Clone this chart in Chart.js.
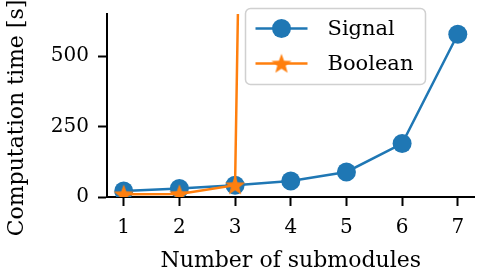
<!DOCTYPE html>
<html><head><meta charset="utf-8">
<script src="https://cdn.jsdelivr.net/npm/chart.js@4/dist/chart.umd.min.js"></script>
<style>html,body{margin:0;padding:0;background:#fff}</style>
</head><body>
<canvas id="c" width="488" height="280" style="width:488px;height:280px;display:block"></canvas>
<script>
const categories = [1, 2, 3, 4, 5, 6, 7];
const signalValues = [21, 30, 42, 57, 89, 190, 578];
const booleanValues = [10, 11, 42, 12000, null, null, null];
const yTickValues = [0, 250, 500];
const seriesNames = ['Signal', 'Boolean'];
const xTitle = 'Number of submodules';
const yTitle = 'Computation time [s]';

const BLUE = '#1f77b4', ORANGE = '#ff7f0e';
const FONT = '"DejaVu Serif", serif';

function makeStar(size, color) {
  const c = document.createElement('canvas');
  c.width = size; c.height = size;
  const g = c.getContext('2d');
  const R = size / 2 - 0.5, r = R * 0.42, cx = size / 2, cy = size / 2 + 0.8;
  g.beginPath();
  for (let i = 0; i < 10; i++) {
    const rad = i % 2 === 0 ? R : r;
    const a = -Math.PI / 2 + i * Math.PI / 5;
    const px = cx + rad * Math.cos(a), py = cy + rad * Math.sin(a);
    if (i === 0) g.moveTo(px, py); else g.lineTo(px, py);
  }
  g.closePath();
  g.fillStyle = color; g.fill();
  return c;
}
const starImg = makeStar(22, ORANGE);

const toPoints = vals => categories.map((x, i) => ({ x: x, y: vals[i] })).filter(p => p.y !== null);

const customPlugin = {
  id: 'custom',
  afterDatasetsDraw(chart) {
    const ctx = chart.ctx, a = chart.chartArea;
    ctx.save();
    // legend box
    const bx = a.left + 138.5, by = a.top - 5.5, bw = 180, bh = 76;
    ctx.beginPath();
    ctx.roundRect(bx, by, bw, bh, 5);
    ctx.fillStyle = 'rgba(255,255,255,0.8)';
    ctx.fill();
    ctx.lineWidth = 1.5;
    ctx.strokeStyle = '#d0d0d0';
    ctx.stroke();
    const rows = [
      { name: seriesNames[0], color: BLUE, y: by + 20, marker: 'circle' },
      { name: seriesNames[1], color: ORANGE, y: by + 55, marker: 'star' }
    ];
    const lx0 = bx + 10, lx1 = bx + 62, mx = (lx0 + lx1) / 2;
    rows.forEach(r => {
      ctx.beginPath();
      ctx.moveTo(lx0, r.y); ctx.lineTo(lx1, r.y);
      ctx.strokeStyle = r.color; ctx.lineWidth = 2.5; ctx.stroke();
      if (r.marker === 'circle') {
        ctx.beginPath(); ctx.arc(mx, r.y, 9.5, 0, Math.PI * 2);
        ctx.fillStyle = r.color; ctx.fill();
      } else {
        ctx.drawImage(starImg, mx - 11, r.y - 11);
      }
      ctx.fillStyle = '#000';
      ctx.font = '21px ' + FONT;
      ctx.textBaseline = 'middle';
      ctx.textAlign = 'left';
      ctx.fillText(r.name, bx + 82, r.y + 1);
    });
    // axis titles
    ctx.fillStyle = '#000';
    ctx.font = '22px ' + FONT;
    ctx.textAlign = 'center';
    ctx.textBaseline = 'alphabetic';
    ctx.fillText(xTitle, (a.left + a.right) / 2, 267);
    ctx.translate(23, 118);
    ctx.rotate(-Math.PI / 2);
    ctx.fillText(yTitle, 0, 0);
    ctx.restore();
  }
};

new Chart(document.getElementById('c'), {
  type: 'line',
  data: {
    datasets: [
      {
        label: seriesNames[0],
        data: toPoints(signalValues),
        borderColor: BLUE, backgroundColor: BLUE,
        borderWidth: 2.5, pointRadius: 9.5, pointHoverRadius: 9.5,
        pointBorderWidth: 0, pointStyle: 'circle', tension: 0, order: 1,
        clip: { left: 10, right: 10, top: 0, bottom: 0 }
      },
      {
        label: seriesNames[1],
        data: toPoints(booleanValues),
        borderColor: ORANGE, backgroundColor: ORANGE,
        borderWidth: 2.5, pointStyle: starImg, pointRadius: 11,
        tension: 0, order: 0,
        clip: { left: 10, right: 10, top: 0, bottom: 0 }
      }
    ]
  },
  options: {
    responsive: false,
    animation: false,
    devicePixelRatio: 1,
    layout: { padding: { left: 0, right: 8, top: 14, bottom: 0 } },
    plugins: { legend: { display: false }, tooltip: { enabled: false } },
    scales: {
      x: {
        type: 'linear', min: 0.7, max: 7.3,
        afterBuildTicks: s => { s.ticks = categories.map(v => ({ value: v })); },
        afterFit: s => { s.height = 83; s.paddingLeft = 0; s.paddingRight = 0; },
        ticks: { color: '#000', font: { family: FONT, size: 20 }, padding: 10, maxRotation: 0, autoSkip: false,
                 callback: v => String(v) },
        grid: { drawOnChartArea: false, drawTicks: true, tickLength: 9, tickWidth: 2, color: '#000' },
        border: { display: true, color: '#000', width: 2 }
      },
      y: {
        min: 0, max: 650,
        afterBuildTicks: s => { s.ticks = yTickValues.map(v => ({ value: v })); },
        afterFit: s => { s.width = 107; s.paddingTop = 0; s.paddingBottom = 0; },
        ticks: { color: '#000', font: { family: FONT, size: 20 }, padding: 9, callback: v => String(v) },
        grid: { drawOnChartArea: false, drawTicks: true, tickLength: 9, tickWidth: 2, color: '#000' },
        border: { display: true, color: '#000', width: 2 }
      }
    }
  },
  plugins: [customPlugin]
});
</script>
</body></html>
